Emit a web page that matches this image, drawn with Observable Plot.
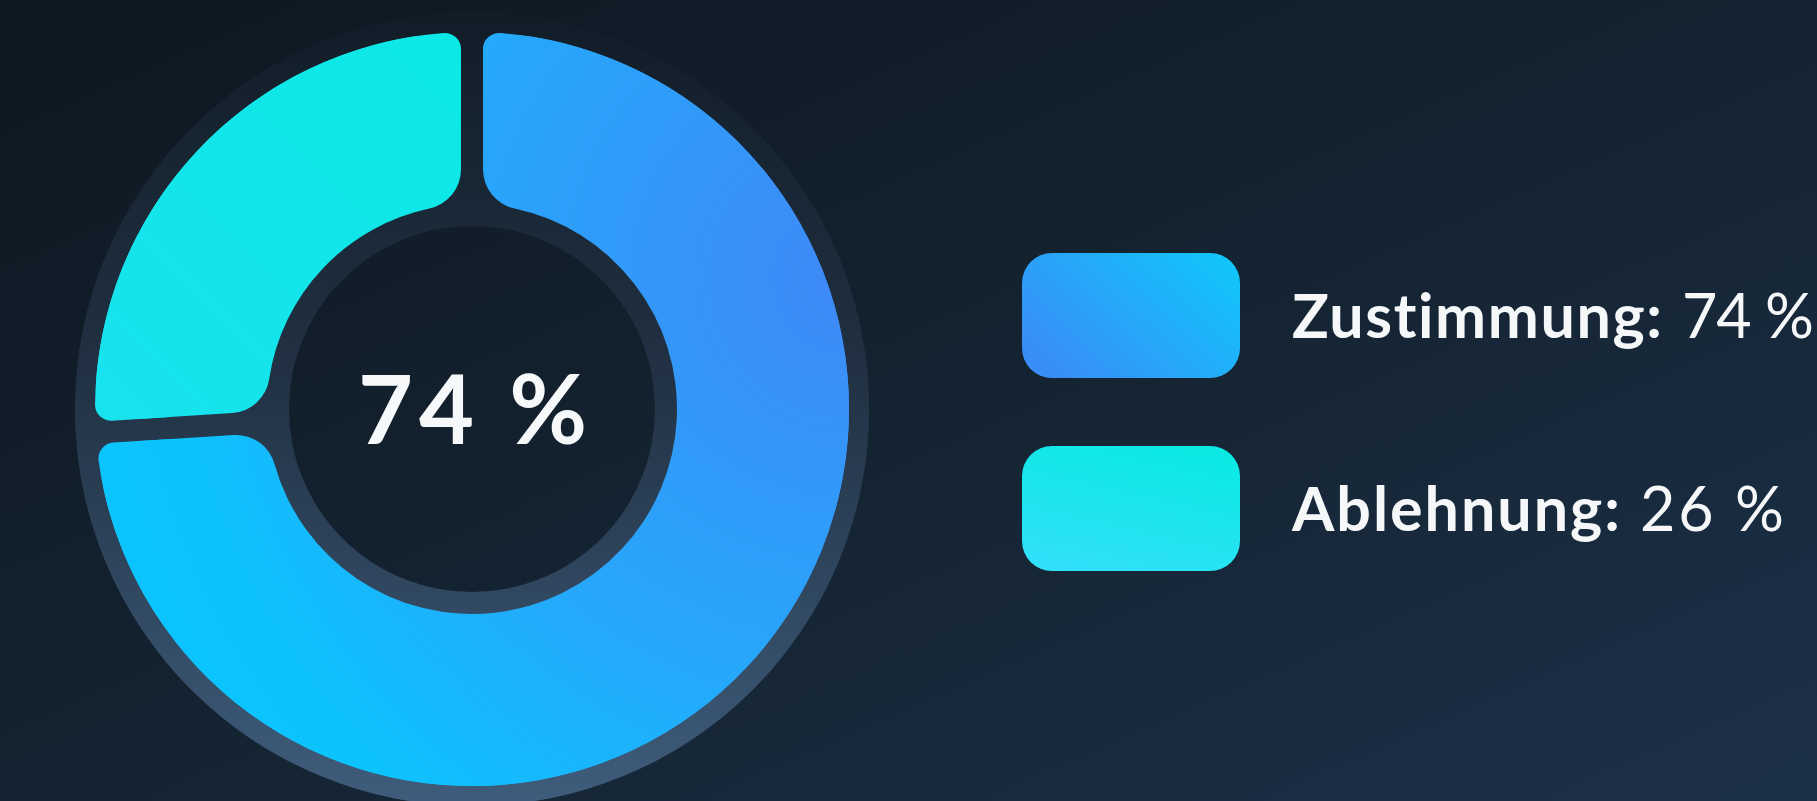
<!DOCTYPE html>
<html>
<head>
<meta charset="utf-8">
<script src="https://cdn.jsdelivr.net/npm/d3@7"></script>
<script src="https://cdn.jsdelivr.net/npm/@observablehq/plot@0.6"></script>
<style>
  html, body { margin: 0; padding: 0; width: 1817px; height: 801px; overflow: hidden; }
  body { background: linear-gradient(to bottom right, #0d1720 0%, #142331 50%, #1c3048 100%); font-family: Lato, sans-serif; }
  #chart { position: absolute; left: 0; top: 0; }
  #chart text { font-variant-ligatures: none; font-feature-settings: "liga" 0, "clig" 0; }
  #chart g[aria-label="text"] text { letter-spacing: 6px; }
</style>
</head>
<body>
<div id="chart"></div>
<script>
// ---- data ----
const categories = ["Zustimmung", "Ablehnung"];
const values = [74, 26];
const valueLabels = ["74 %", "26 %"];
const centerLabel = ["74 %"];

const data = categories.map((c, i) => ({category: c, value: values[i]}));

// ---- layout ----
const CX = 472, CY = 409, R = 377;
const ringInner = 205 / 377;
const borderOuter = 397 / 377;
const borderInner = 183 / 377;
const legendX = 1022, legendTop = 253, legendStep = 193;
const textX = 1292;
const labelWidths = [370, 328];
const valueGap = 20;
const valueWidths = [132, 144];

function donutMark(index, scales) {
  const cx = scales.x(0), cy = scales.y(0), r = scales.x(1) - cx;
  const g = d3.create("svg:g").attr("transform", `translate(${cx},${cy})`);
  const defs = g.append("defs");

  const gb = defs.append("linearGradient").attr("id", "ringBorder").attr("gradientUnits", "userSpaceOnUse")
    .attr("x1", 0).attr("y1", -r * 1.06).attr("x2", 0).attr("y2", r * 1.06);
  gb.append("stop").attr("offset", 0).attr("stop-color", "#111c27");
  gb.append("stop").attr("offset", 0.45).attr("stop-color", "#213143");
  gb.append("stop").attr("offset", 1).attr("stop-color", "#3f5d7c");

  const g0 = defs.append("radialGradient").attr("id", "seg0").attr("gradientUnits", "userSpaceOnUse")
    .attr("cx", r * 1.0).attr("cy", -r * 0.35).attr("r", r * 2.0);
  g0.append("stop").attr("offset", 0).attr("stop-color", "#3f88f6");
  g0.append("stop").attr("offset", 0.55).attr("stop-color", "#26a8fb");
  g0.append("stop").attr("offset", 0.9).attr("stop-color", "#0dc2fd");
  g0.append("stop").attr("offset", 1).attr("stop-color", "#0cc4fd");

  const g1 = defs.append("linearGradient").attr("id", "seg1").attr("gradientUnits", "userSpaceOnUse")
    .attr("x1", 0).attr("y1", -r).attr("x2", -r).attr("y2", 0);
  g1.append("stop").attr("offset", 0).attr("stop-color", "#0be9e5");
  g1.append("stop").attr("offset", 1).attr("stop-color", "#18e2ee");

  g.append("path")
    .attr("d", d3.arc()({innerRadius: r * borderInner, outerRadius: r * borderOuter, startAngle: 0, endAngle: 2 * Math.PI}))
    .attr("fill", "url(#ringBorder)");

  const pie = d3.pie().sort(null).value(d => d.value).startAngle(0).endAngle(2 * Math.PI);
  const arcs = pie(data);
  const pad = 22 / r;
  const arcInner = d3.arc().innerRadius(r * ringInner).outerRadius(r).cornerRadius(40).padRadius(r).padAngle(pad);
  const arcOuter = d3.arc().innerRadius(r * (ringInner + 1) / 2).outerRadius(r).cornerRadius(16).padRadius(r).padAngle(pad);
  const segs = g.selectAll("g.seg").data(arcs).join("g").attr("class", "seg")
    .attr("fill", (d, i) => `url(#seg${i})`);
  segs.append("path").attr("d", arcInner);
  segs.append("path").attr("d", arcOuter);
  return g.node();
}

function legendMark() {
  const g = d3.create("svg:g").attr("text-anchor", "start");
  const defs = g.append("defs");
  const s0 = defs.append("linearGradient").attr("id", "sw0").attr("x1", 0).attr("y1", 0.8).attr("x2", 1).attr("y2", 0.2);
  s0.append("stop").attr("offset", 0).attr("stop-color", "#3a8cf6");
  s0.append("stop").attr("offset", 1).attr("stop-color", "#12c4fb");
  const s1 = defs.append("linearGradient").attr("id", "sw1").attr("x1", 0.7).attr("y1", 0).attr("x2", 0.3).attr("y2", 1);
  s1.append("stop").attr("offset", 0).attr("stop-color", "#0ae9e4");
  s1.append("stop").attr("offset", 1).attr("stop-color", "#30e0f8");

  categories.forEach((c, i) => {
    const top = legendTop + i * legendStep;
    const baseline = top + 62.5 + 22;
    g.append("rect").attr("x", legendX).attr("y", top).attr("width", 218).attr("height", 125)
      .attr("rx", 30).attr("fill", `url(#sw${i})`);
    g.append("text").attr("x", textX).attr("y", baseline).attr("text-anchor", "start")
      .attr("fill", "#f5f7f9").attr("font-family", "Lato, sans-serif").attr("font-size", 61)
      .attr("font-weight", 700)
      .attr("textLength", labelWidths[i]).attr("lengthAdjust", "spacing")
      .text(c + ":");
    g.append("text").attr("x", textX + labelWidths[i] + valueGap).attr("y", baseline).attr("text-anchor", "start")
      .attr("fill", "#f5f7f9").attr("font-family", "Lato, sans-serif").attr("font-size", 61)
      .attr("font-weight", 400)
      .attr("textLength", valueWidths[i]).attr("lengthAdjust", "spacing")
      .text(valueLabels[i]);
  });
  return g.node();
}

const plot = Plot.plot({
  width: 1817,
  height: 801,
  margin: 0,
  style: {background: "transparent", overflow: "visible"},
  x: {domain: [-1, 1], range: [CX - R, CX + R], axis: null},
  y: {domain: [-1, 1], range: [CY + R, CY - R], axis: null},
  marks: [
    donutMark,
    Plot.text(centerLabel, {
      x: () => 0, y: () => 0, text: d => d,
      fill: "#f7f8fa", fontSize: 95, fontWeight: 700, fontFamily: "Lato, sans-serif", dy: 4, dx: 3
    }),
    legendMark
  ]
});
document.getElementById("chart").appendChild(plot);
</script>
</body>
</html>
